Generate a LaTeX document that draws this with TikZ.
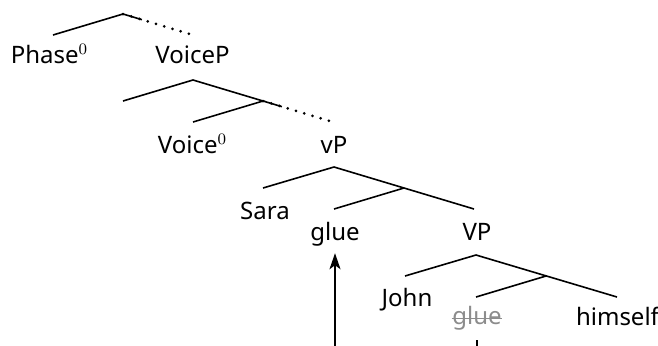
\documentclass[tikz,border=0pt]{standalone}
\usepackage{fontspec}
\setmainfont{Noto Sans}
\usetikzlibrary{arrows.meta,calc}

\begin{document}
\begin{tikzpicture}[x=0.5pt,y=-0.5pt,line width=0.8pt,
  lbl/.style={anchor=base,font=\fontsize{12}{14}\selectfont},
  trace/.style={lbl,text=black!45},
  dots/.style={line cap=round,dash pattern=on 0pt off 4.3pt,line width=1.5pt},
  move/.style={-{Stealth[length=8pt,width=5.5pt,inset=2pt]}}]
\useasboundingbox (0,0) rectangle (658,345);
\clip (0,0) rectangle (658,345);
\def\f{.27}
% branching points
\coordinate (top) at (123,14);
\coordinate (phE) at (53,35);
\coordinate (voicePE) at (193,35);
\coordinate (voicePtop) at (193,80);
\coordinate (specE) at (123,101);
\coordinate (vbar) at (263,101);
\coordinate (voiceE) at (193,122);
\coordinate (vPE) at (333,122);
\coordinate (vPtop) at (334,167);
\coordinate (saraE) at (263,188);
\coordinate (vbarb) at (404,188);
\coordinate (glueE) at (334,209);
\coordinate (VPE) at (474,209);
\coordinate (VPtop) at (476,255);
\coordinate (johnE) at (405,276);
\coordinate (Vbar) at (546,276);
\coordinate (trE) at (476,297);
\coordinate (himE) at (617,297);
% labels
\node[lbl] (phase) at (49.5,63) {Phase$^0$};
\node[lbl] (voiceP) at (192.5,63) {VoiceP};
\node[lbl] (voice) at (192.5,153) {Voice$^0$};
\node[lbl] (vP) at (334,153) {vP};
\node[lbl] (sara) at (265,219) {Sara};
\node[lbl] (glue) at (335,240) {glue};
\node[lbl] (VP) at (477,240) {VP};
\node[lbl] (john) at (407,306) {John};
\node[trace,inner xsep=0pt] (gluet) at (477,324) {glue};
\node[lbl] (himself) at (617.5,325) {himself};
% strike through the lower copy
\draw[black!45,line width=0.5pt] ([yshift=2.9pt]gluet.base west) -- ([yshift=2.9pt]gluet.base east);
% branches
\draw (top) -- (phE);
\draw (top) -- ($(top)!\f!(voicePE)$);
\draw[dots] (top) -- (voicePE);
\draw (voicePtop) -- (specE);
\draw (voicePtop) -- (vbar) -- (voiceE);
\draw (vbar) -- ($(vbar)!\f!(vPE)$);
\draw[dots] (vbar) -- (vPE);
\draw (vPtop) -- (saraE);
\draw (vPtop) -- (VPE);
\draw (vbarb) -- (glueE);
\draw (VPtop) -- (johnE);
\draw (VPtop) -- (himE);
\draw (Vbar) -- (trE);
% head movement
\draw[move,shorten <=1.5pt] (gluet.south) -- ++(0,40) -| (glue.south);
\end{tikzpicture}
\end{document}
